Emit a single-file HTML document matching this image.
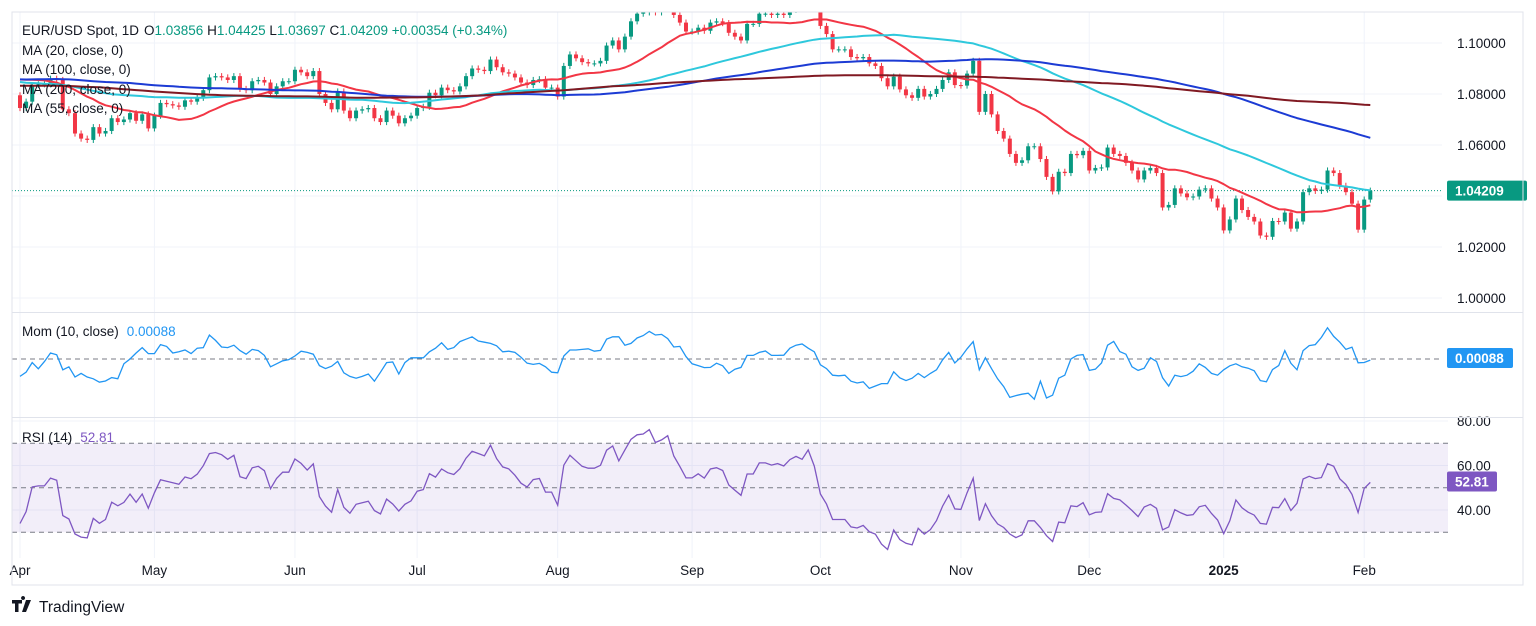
<!DOCTYPE html>
<html><head><meta charset="utf-8">
<style>
html,body{margin:0;padding:0;background:#fff;}
svg{display:block;font-family:"Liberation Sans",sans-serif;}
</style></head>
<body>
<svg id="chart" width="1536" height="626" viewBox="0 0 1536 626" xmlns="http://www.w3.org/2000/svg">
<defs>
<clipPath id="cMain"><rect x="12" y="12" width="1430" height="300"/></clipPath>
<clipPath id="cMom"><rect x="12" y="313" width="1430" height="103"/></clipPath>
<clipPath id="cRsi"><rect x="12" y="418" width="1430" height="140"/></clipPath>
</defs>
<rect x="0" y="0" width="1536" height="626" fill="#fff"/>
<g id="grid"></g>
<g id="rsiBand"></g>
<g id="candles" clip-path="url(#cMain)"></g>
<g id="mas" clip-path="url(#cMain)"></g>
<g id="mom" clip-path="url(#cMom)"></g>
<g id="rsi" clip-path="url(#cRsi)"></g>
<g id="axes"></g>
<rect x="12" y="12" width="1511" height="573" fill="none" stroke="#e0e3eb" stroke-width="1"/>
<line x1="12" y1="312.5" x2="1523" y2="312.5" stroke="#e0e3eb"/>
<line x1="12" y1="417.5" x2="1523" y2="417.5" stroke="#e0e3eb"/>
<g font-size="13.5" fill="#131722">
<text x="22" y="35">EUR/USD Spot, 1D</text>
<text x="144" y="35"><tspan fill="#131722">O</tspan><tspan fill="#089981">1.03856</tspan><tspan fill="#131722"> H</tspan><tspan fill="#089981">1.04425</tspan><tspan fill="#131722"> L</tspan><tspan fill="#089981">1.03697</tspan><tspan fill="#131722"> C</tspan><tspan fill="#089981">1.04209</tspan><tspan fill="#089981"> +0.00354 (+0.34%)</tspan></text>
<text x="22" y="55">MA (20, close, 0)</text>
<text x="22" y="74">MA (100, close, 0)</text>
<text x="22" y="94">MA (200, close, 0)</text>
<text x="22" y="113">MA (55, close, 0)</text>
<text x="22" y="336">Mom (10, close)<tspan fill="#2196f3" dx="8">0.00088</tspan></text>
<text x="22" y="442">RSI (14)<tspan fill="#7e57c2" dx="8">52.81</tspan></text>
</g>
<g>
<path d="M12 600h10v3.5h-3.5v8.5h-3.5v-8.5h-3z M23 600a2 2 0 1 1 0.1 0z M26 600h5l-5 12h-4z" fill="#131722"/>
<text x="39" y="612" font-size="15.5" fill="#131722">TradingView</text>
</g>
</svg>
<script>
// ---- data ----
const historyMonthly = [1.084,1.106,1.091,1.068,1.056,1.081,1.091,1.091,1.079];
const recentHistory = [1.0840,1.0850,1.0870,1.0945,1.0940,1.0925,1.0890,1.0880,1.0890,1.0880,1.0865,1.0920,1.0860,1.0810,1.0820,1.0830,1.0790,1.0795];
const closes = [
// Apr
1.0745,1.0770,1.0835,1.0838,1.0838,1.0860,1.0855,1.0740,1.0725,1.0645,1.0625,1.0620,1.0670,1.0645,1.0655,1.0705,1.0690,1.0700,1.0725,1.0695,1.0720,1.0665,
// May
1.0715,1.0765,1.0760,1.0755,1.0750,1.0775,1.0770,1.0785,1.0815,1.0865,1.0870,1.0865,1.0855,1.0870,1.0820,1.0815,1.0850,1.0855,1.0845,1.0800,1.0830,1.0850,1.0850,
// Jun
1.0895,1.0885,1.0870,1.0890,1.0800,1.0765,1.0740,1.0810,1.0735,1.0705,1.0735,1.0740,1.0745,1.0705,1.0690,1.0735,1.0715,1.0685,1.0705,1.0715,
// Jul
1.0745,1.0750,1.0805,1.0795,1.0825,1.0815,1.0810,1.0830,1.0870,1.0900,1.0895,1.0890,1.0935,1.0905,1.0885,1.0880,1.0865,1.0845,1.0835,1.0855,1.0858,1.0825,1.0825,
// Aug
1.0790,1.0910,1.0955,1.0940,1.0925,1.0920,1.0920,1.0930,1.0990,1.1010,1.0975,1.1025,1.1085,1.1115,1.1120,1.1150,1.1120,1.1135,1.1160,1.1110,1.1080,1.1045,
// Sep
1.1045,1.1060,1.1048,1.1080,1.1085,1.1078,1.1040,1.1025,1.1010,1.1075,1.1075,1.1115,1.1115,1.1110,1.1115,1.1110,1.1130,1.1140,1.1135,1.1165,1.1135,
// Oct
1.1067,1.1035,1.0975,1.0975,1.0975,1.0945,1.0940,1.0945,1.0920,1.0910,1.0862,1.0830,1.0868,1.0818,1.0795,1.0785,1.0820,1.0790,1.0800,1.0820,1.0855,1.0885,1.0835,
// Nov
1.0833,1.0880,1.0930,1.0730,1.0800,1.0720,1.0655,1.0625,1.0565,1.0530,1.0540,1.0595,1.0595,1.0545,1.0475,1.0418,1.0495,1.0490,1.0565,1.0560,1.0577,
// Dec
1.0500,1.0510,1.0512,1.0590,1.0565,1.0557,1.0530,1.0500,1.0465,1.0500,1.0510,1.0490,1.0355,1.0365,1.0430,1.0410,1.0395,1.0398,1.0425,1.0430,1.0390,1.0355,
// Jan
1.0265,1.0308,1.0390,1.0345,1.0318,1.0300,1.0245,1.0240,1.0302,1.0300,1.0335,1.0272,1.0300,1.0415,1.0430,1.0420,1.0425,1.0500,1.0490,1.0440,1.0415,1.0370,1.0268,
// Feb
1.0386,1.04209
];
const monthLabels = ["Apr","May","Jun","Jul","Aug","Sep","Oct","Nov","Dec","2025","Feb"];
const monthStartIdx = [0,22,45,65,88,110,131,154,175,197,220];
const priceTicks = [1.10,1.08,1.06,1.04,1.02,1.00];
const priceTickLabels = ["1.10000","1.08000","1.06000","","1.02000","1.00000"];
const rsiTicks = [80,60,40];
const maPeriods = [20,55,100,200];
const maColors = ["#f23645","#2ec8dc","#1c3bd4","#801922"];

// ---- axes ----
const NS="http://www.w3.org/2000/svg";
const X0=20, DX=6.11;
const xOf = i => X0 + i*DX;
const yP = p => 43 + (1.10-p)*2550;
const yM = v => 359 - v*1200;
const yR = v => 421 + (80-v)*2.225;
function mk(tag, attrs, parent){const e=document.createElementNS(NS,tag);for(const k in attrs)e.setAttribute(k,attrs[k]);parent.appendChild(e);return e;}
const $=id=>document.getElementById(id);

// full series with history
const hist=[];historyMonthly.forEach(v=>{for(let k=0;k<21;k++)hist.push(v);});
recentHistory.forEach(v=>hist.push(v));
const all=hist.concat(closes);const H=hist.length;

// grid
const grid=$("grid");
priceTicks.forEach(p=>{const l=mk("line",{x1:12,x2:1442,y1:yP(p),y2:yP(p),stroke:"#f0f3fa"},grid);

});
rsiTicks.forEach(v=>{const l=mk("line",{x1:12,x2:1448,y1:yR(v),y2:yR(v),stroke:"#f0f3fa"},grid);

});
monthStartIdx.forEach(i=>{const l=mk("line",{x1:xOf(i),x2:xOf(i),y1:12,y2:558,stroke:"#f0f3fa"},grid);

});

// RSI band
const band=$("rsiBand");
const br=mk("rect",{x:12,y:yR(70),width:1436,height:yR(30)-yR(70),fill:"#7e57c2","fill-opacity":0.1},band);


[70,50,30].forEach(v=>{const l=mk("line",{x1:12,x2:1448,y1:yR(v),y2:yR(v),stroke:"#787b86","stroke-dasharray":"5,4"},band);

});

// candles
const cg=$("candles");
const last=closes[closes.length-1];
const lp=mk("line",{x1:12,x2:1442,y1:yP(last),y2:yP(last),stroke:"#089981","stroke-dasharray":"1,2"},cg);


closes.forEach((c,i)=>{
  const o = i===0 ? hist[H-1] : closes[i-1];
  const up=c>=o, col=up?"#089981":"#f23645";
  const hi=Math.max(o,c)+0.0012, lo=Math.min(o,c)-0.0012;
  const x=xOf(i);
  const w=mk("line",{x1:x,x2:x,y1:yP(hi),y2:yP(lo),stroke:col,"stroke-width":1},cg);
  
  
  const yt=yP(Math.max(o,c)), yb=yP(Math.min(o,c));
  const b=mk("rect",{x:x-2,y:yt,width:4,height:Math.max(1,yb-yt),fill:col},cg);
  
  
});

// moving averages
const mg=$("mas");
maPeriods.forEach((n,k)=>{
  let pts=[];
  for(let i=0;i<closes.length;i++){let s=0;for(let j=0;j<n;j++)s+=all[H+i-j];pts.push(xOf(i).toFixed(1)+","+yP(s/n).toFixed(1));}
  const pl=mk("polyline",{points:pts.join(" "),fill:"none",stroke:maColors[k],"stroke-width":2,"stroke-linejoin":"round"},mg);
  
  
});

// momentum
const momG=$("mom");
const zl=mk("line",{x1:12,x2:1448,y1:yM(0),y2:yM(0),stroke:"#787b86","stroke-dasharray":"5,4"},momG);


let mp=[];
for(let i=0;i<closes.length;i++){const v=all[H+i]-all[H+i-10];mp.push(xOf(i).toFixed(1)+","+yM(v).toFixed(1));}
const ml=mk("polyline",{points:mp.join(" "),fill:"none",stroke:"#2196f3","stroke-width":1.3},momG);



// RSI (Wilder 14)
const rsiG=$("rsi");
let ag=0,al=0;const N=14;let rs=[];
for(let t=1;t<all.length;t++){
  const d=all[t]-all[t-1],g=Math.max(d,0),l=Math.max(-d,0);
  if(t<=N){ag+=g/N;al+=l/N;} else {ag=(ag*(N-1)+g)/N;al=(al*(N-1)+l)/N;}
  rs[t]= (ag+al)===0?50:100-100/(1+ag/(al||1e-12));
}
let rp=[];
for(let i=0;i<closes.length;i++)rp.push(xOf(i).toFixed(1)+","+yR(rs[H+i]).toFixed(1));
const rl=mk("polyline",{points:rp.join(" "),fill:"none",stroke:"#7e57c2","stroke-width":1.3},rsiG);



// axis labels
const ax=$("axes");
priceTicks.forEach((p,k)=>{if(!priceTickLabels[k])return;
  const t=mk("text",{x:1457,y:yP(p)+5,"font-size":13.5,fill:"#131722"},ax);t.textContent=priceTickLabels[k];
  
  });
rsiTicks.forEach(v=>{const t=mk("text",{x:1457,y:yR(v)+5,"font-size":13.5,fill:"#131722"},ax);t.textContent=v.toFixed(2);
  
  });
monthStartIdx.forEach((i,k)=>{const t=mk("text",{x:xOf(i),y:575,"font-size":13.5,fill:"#131722","text-anchor":"middle","font-weight":monthLabels[k]==="2025"?"bold":"normal"},ax);
  t.textContent=monthLabels[k];
  
  });
// value badges
function badge(y,txt,col,name,w){
  const g=mk("g",{},ax);
  
  
  mk("rect",{x:1447,y:y-10,width:w,height:20,rx:2,fill:col},g);
  const t=mk("text",{x:1455,y:y+5,"font-size":13.5,fill:"#fff","font-weight":"bold"},g);t.textContent=txt;
}
badge(yP(last),last.toFixed(5),"#089981","last-price-badge",80);
badge(yM(0.00088),"0.00088","#2196f3","mom-value-badge",66);
badge(yR(52.81),"52.81","#7e57c2","rsi-value-badge",50);
</script>
</body></html>
